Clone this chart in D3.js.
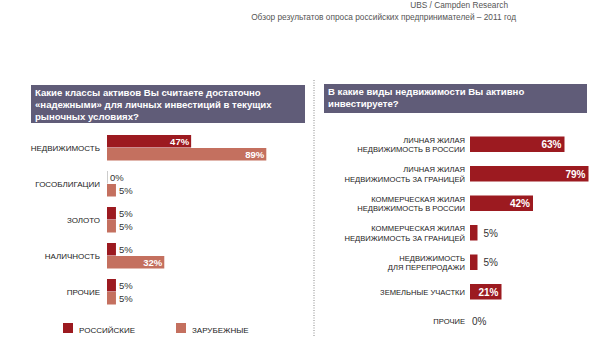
<!DOCTYPE html>
<html><head><meta charset="utf-8">
<script src="https://cdn.jsdelivr.net/npm/d3@7"></script>
<style>body{margin:0;background:#fff;}svg{display:block;font-family:"Liberation Sans",Arial,sans-serif;}</style>
</head><body><svg id="c" width="600" height="341"></svg>
<script>
const leftCategories = ["НЕДВИЖИМОСТЬ","ГОСОБЛИГАЦИИ","ЗОЛОТО","НАЛИЧНОСТЬ","ПРОЧИЕ"];
const russianValues = [47,0,5,5,5];
const foreignValues = [89,5,5,32,5];
const seriesNames = ["РОССИЙСКИЕ","ЗАРУБЕЖНЫЕ"];
const rightCategories = [["ЛИЧНАЯ ЖИЛАЯ","НЕДВИЖИМОСТЬ В РОССИИ"],["ЛИЧНАЯ ЖИЛАЯ","НЕДВИЖИМОСТЬ ЗА ГРАНИЦЕЙ"],["КОММЕРЧЕСКАЯ ЖИЛАЯ","НЕДВИЖИМОСТЬ В РОССИИ"],["КОММЕРЧЕСКАЯ ЖИЛАЯ","НЕДВИЖИМОСТЬ ЗА ГРАНИЦЕЙ"],["НЕДВИЖИМОСТЬ","ДЛЯ ПЕРЕПРОДАЖИ"],["ЗЕМЕЛЬНЫЕ УЧАСТКИ"],["ПРОЧИЕ"]];
const rightValues = [63,79,42,5,5,21,0];
const titleLines = ["UBS / Campden Research","Обзор результатов опроса российских предпринимателей – 2011 год"];
const leftQuestion = ["Какие классы активов Вы считаете достаточно","«надежными» для личных инвестиций в текущих","рыночных условиях?"];
const rightQuestion = ["В какие виды недвижимости Вы активно","инвестируете?"];

const C_RU = "#9c1a20", C_FO = "#c4705f", C_BOX = "#605c78", C_TXT = "#333";
const svg = d3.select("#c");

// top title
svg.append("g").selectAll("text").data(titleLines).join("text")
  .attr("x", (d,i)=> i===0 ? 508 : 516).attr("y", (d,i)=>8+i*11.5).attr("text-anchor","end")
  .attr("font-size", 8.3).attr("fill","#555").text(d=>d);

// question boxes
function box(x,y,w,h,lines){
  svg.append("rect").attr("x",x).attr("y",y).attr("width",w).attr("height",h).attr("fill",C_BOX);
  svg.append("g").selectAll("text").data(lines).join("text")
    .attr("x",x+4).attr("y",(d,i)=>y+11+i*12).attr("fill","#fff")
    .attr("font-size",9.6).attr("font-weight","bold").text(d=>d);
}
box(31,85,274,38,leftQuestion);
box(324,84,263,29,rightQuestion);

// dotted separator
svg.append("line").attr("x1",314).attr("x2",314).attr("y1",80).attr("y2",336)
  .attr("stroke","#888").attr("stroke-width",1).attr("stroke-dasharray","1,1.5");

// left chart
const xL = d3.scaleLinear().domain([0,100]).range([107,286]);
const yL = d3.scaleBand().domain(leftCategories).range([130,310]).paddingInner(0).paddingOuter(0);
const bh = 13;
const gL = svg.append("g");
leftCategories.forEach((c,i)=>{
  const cy = yL(c)+yL.bandwidth()/2;
  [[russianValues[i],C_RU,cy-bh],[foreignValues[i],C_FO,cy]].forEach(([v,col,y])=>{
    const w = xL(v)-xL(0);
    gL.append("rect").attr("x",xL(0)).attr("y",y).attr("width",Math.max(w, v===0?1:0)).attr("height",bh-0.5)
      .attr("fill", v===0?"#ccc":col);
    const inside = v>=20;
    gL.append("text").attr("x", inside? xL(v)-2 : xL(v)+3).attr("y",y+bh/2+3.5)
      .attr("text-anchor", inside?"end":"start").attr("font-size",9.5)
      .attr("font-weight", inside?"bold":"normal").attr("fill", inside?"#fff":C_TXT).text(v+"%");
  });
  gL.append("text").attr("x",100).attr("y",cy+3).attr("text-anchor","end")
    .attr("font-size",8).attr("fill","#222").text(c);
});

// legend
const lg = svg.append("g");
seriesNames.forEach((s,i)=>{
  const x = [63,176][i];
  lg.append("rect").attr("x",x).attr("y",323).attr("width",10).attr("height",10).attr("fill",[C_RU,C_FO][i]);
  lg.append("text").attr("x",x+16).attr("y",333).attr("font-size",8).attr("fill","#222").text(s);
});

// right chart
const xR = d3.scaleLinear().domain([0,100]).range([470,620]);
const yR = d3.scaleBand().domain(d3.range(rightCategories.length)).range([129.5,336]);
const gR = svg.append("g");
rightValues.forEach((v,i)=>{
  const cy = yR(i)+yR.bandwidth()/2;
  const h = 15.5;
  if(v>0) gR.append("rect").attr("x",xR(0)).attr("y",cy-h/2).attr("width",xR(v)-xR(0)).attr("height",h).attr("fill",C_RU);
  const inside = v>=20;
  gR.append("text").attr("x", inside? xR(v)-3 : xR(v)+(v>0?6:2)).attr("y",cy+4)
    .attr("text-anchor", inside?"end":"start").attr("font-size",10)
    .attr("font-weight", inside?"bold":"normal").attr("fill", inside?"#fff":C_TXT).text(v+"%");
  const lines = rightCategories[i];
  gR.append("g").selectAll("text").data(lines).join("text")
    .attr("x",465).attr("text-anchor","end").attr("font-size",7.6).attr("fill","#222")
    .attr("y",(d,k)=>cy+3-(lines.length-1)*4.5+k*9.5).text(d=>d);
});
</script></body></html>
